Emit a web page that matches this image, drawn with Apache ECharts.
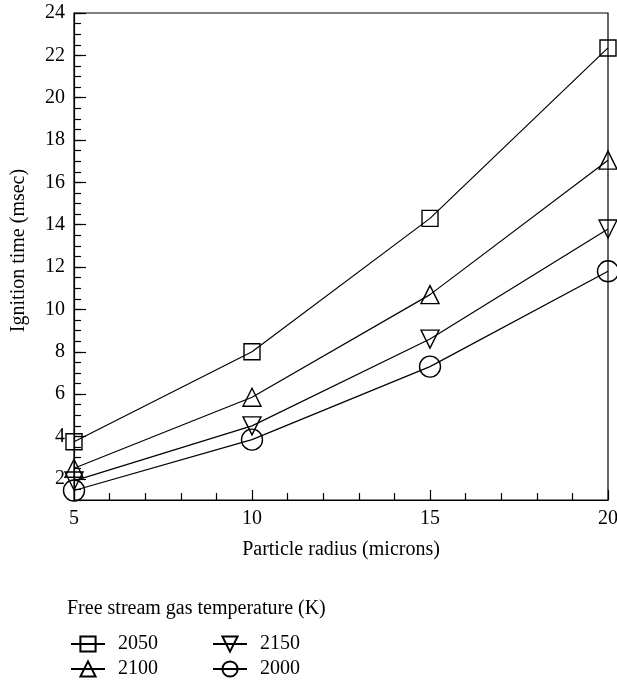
<!DOCTYPE html>
<html>
<head>
<meta charset="utf-8">
<script src="https://cdn.jsdelivr.net/npm/echarts@6/dist/echarts.min.js"></script>
<style>
html,body{margin:0;padding:0;background:#fff;}
#chart{width:617px;height:684px;}
</style>
</head>
<body>
<div id="chart"></div>
<script>
// ---- data ----
var radius = [5, 10, 15, 20];
var t2050 = [3.75, 8.0, 14.3, 22.35];
var t2100 = [2.5, 5.85, 10.7, 17.05];
var t2150 = [1.9, 4.5, 8.6, 13.8];
var t2000 = [1.45, 3.85, 7.3, 11.8];
var yTickLabels = [2, 4, 6, 8, 10, 12, 14, 16, 18, 20, 22, 24];
var xTickLabels = [5, 10, 15, 20];
var seriesNames = ['2050', '2100', '2150', '2000'];

function pairs(xs, ys) { return xs.map(function (x, i) { return [x, ys[i]]; }); }

var FONT = '"Liberation Serif", "DejaVu Serif", serif';
var FS = 20;
var chart = echarts.init(document.getElementById('chart'), null, { renderer: 'canvas' });

function mkSeries(name, vals, symbol, size, rotate) {
  return {
    name: name, type: 'line', data: pairs(radius, vals),
    symbol: symbol, symbolSize: size, symbolRotate: rotate || 0,
    showAllSymbol: true, clip: false, animation: false,
    lineStyle: { color: '#000', width: 1.2 },
    itemStyle: { color: 'rgba(255,255,255,0)', borderColor: '#000', borderWidth: 1.4 },
    emphasis: { disabled: true }
  };
}

var legendCommon = {
  orient: 'vertical', top: 634, padding: 0, height: 50,
  itemWidth: 34, itemHeight: 19, itemGap: 5,
  textStyle: { fontFamily: FONT, fontSize: FS, color: '#000', lineHeight: 19, padding: [0, 0, 0, 8] },
  selectedMode: false
};

var option = {
  backgroundColor: '#fff',
  animation: false,
  title: {
    text: 'Free stream gas temperature (K)',
    left: 62, top: 594,
    textStyle: { fontFamily: FONT, fontSize: FS, fontWeight: 'normal', color: '#000' }
  },
  grid: { left: 74, right: 9, top: 13, bottom: 184, outerBoundsMode: 'none', containLabel: false,
          show: true, borderColor: '#000', borderWidth: 1.2, backgroundColor: 'transparent' },
  xAxis: {
    type: 'value', min: 5, max: 20, interval: 5,
    name: 'Particle radius (microns)', nameLocation: 'middle', nameGap: 40,
    nameTextStyle: { fontFamily: FONT, fontSize: FS, color: '#000' },
    axisLine: { lineStyle: { color: '#000', width: 1.2 } },
    axisTick: { inside: true, length: 10, lineStyle: { color: '#000', width: 1.2 } },
    minorTick: { show: true, splitNumber: 5, length: 7, lineStyle: { color: '#000', width: 1.2 } },
    axisLabel: { fontFamily: FONT, fontSize: FS, color: '#000', margin: 9, customValues: xTickLabels },
    splitLine: { show: false }
  },
  yAxis: [{
    type: 'value', min: 1, max: 24, interval: 0.5,
    name: 'Ignition time (msec)', nameLocation: 'middle', nameGap: 45,
    nameTextStyle: { fontFamily: FONT, fontSize: FS, color: '#000', padding: [0, 0, 0, 12] },
    axisLine: { lineStyle: { color: '#000', width: 1.2 } },
    axisTick: { inside: true, length: 12, customValues: yTickLabels, lineStyle: { color: '#000', width: 1.2 } },
    axisLabel: { fontFamily: FONT, fontSize: FS, color: '#000', margin: 9, customValues: yTickLabels },
    splitLine: { show: false }
  }, {
    type: 'value', min: 1, max: 24, interval: 0.5, position: 'left', offset: 0,
    axisLine: { show: false },
    axisTick: { inside: true, length: 7, lineStyle: { color: '#000', width: 1.2 } },
    axisLabel: { show: false },
    splitLine: { show: false }
  }],
  legend: [
    Object.assign({}, legendCommon, { data: [seriesNames[0], seriesNames[1]], left: 70 }),
    Object.assign({}, legendCommon, { data: [seriesNames[2], seriesNames[3]], left: 212 })
  ],
  series: [
    mkSeries(seriesNames[0], t2050, 'rect', 16),
    mkSeries(seriesNames[1], t2100, 'triangle', 18),
    mkSeries(seriesNames[2], t2150, 'triangle', 18, 180),
    mkSeries(seriesNames[3], t2000, 'circle', 21)
  ]
};
chart.setOption(option);
</script>
</body>
</html>
